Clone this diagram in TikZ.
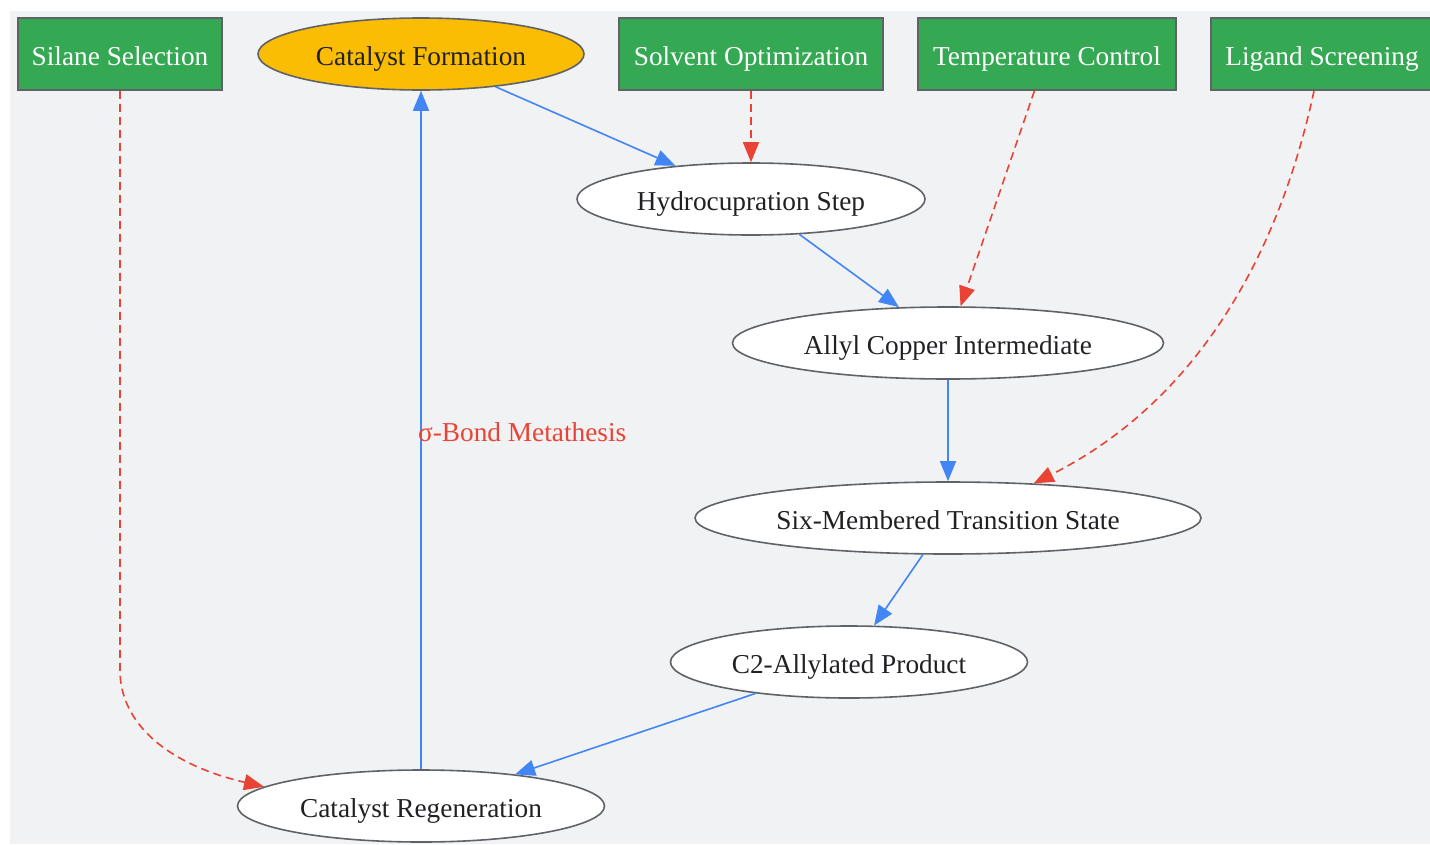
\documentclass[tikz,border=0pt]{standalone}
\usepackage{fontspec}
\setmainfont{Liberation Serif}
\usetikzlibrary{shapes.geometric,arrows.meta}
\definecolor{bgc}{RGB}{241,242,244}
\definecolor{gfill}{RGB}{52,168,83}
\definecolor{yfill}{RGB}{251,188,4}
\definecolor{bordc}{RGB}{95,99,104}
\definecolor{bluec}{RGB}{66,133,244}
\definecolor{redc}{RGB}{234,67,53}
\definecolor{txtc}{RGB}{32,33,36}
\tikzset{
  every node/.style={font=\fontsize{27.3}{32}\selectfont, text height=25pt, text depth=2pt},
  factor/.style={rectangle, draw=bordc, line width=1.6pt, fill=gfill, text=white, minimum height=72pt, inner sep=0pt},
  stepell/.style={ellipse, draw=bordc, line width=1.6pt, fill=white, text=txtc, minimum height=72pt, inner sep=0pt},
  flow/.style={draw=bluec, line width=1.6pt, -{Triangle[length=20pt,width=16pt]}},
  infl/.style={draw=redc, line width=1.6pt, dash pattern=on 8pt off 5pt, -{Triangle[length=20pt,width=16pt]}},
  lbl/.style={text=redc}
}
\begin{document}
\begin{tikzpicture}[x=1pt,y=-1pt]
\useasboundingbox (0,0) rectangle (1430,844);
\fill[bgc] (10,11) rectangle (1430,844);
% top row
\node[factor, minimum width=204pt] (sil) at (120,54) {Silane Selection};
\node[stepell, fill=yfill, minimum width=326pt] (cat) at (421,54) {Catalyst Formation};
\node[factor, minimum width=264pt] (sol) at (751,54) {Solvent Optimization};
\node[factor, minimum width=258pt] (tem) at (1047,54) {Temperature Control};
\node[factor, minimum width=222pt] (lig) at (1322,54) {Ligand Screening};
% mechanism
\node[stepell, minimum width=348pt] (hyd) at (751,199) {Hydrocupration Step};
\node[stepell, minimum width=431pt] (all) at (948,343) {Allyl Copper Intermediate};
\node[stepell, minimum width=506pt] (six) at (948,518) {Six-Membered Transition State};
\node[stepell, minimum width=357pt] (prod) at (849,662) {C2-Allylated Product};
\node[stepell, minimum width=367pt] (reg) at (421,806) {Catalyst Regeneration};
% flow edges
\draw[flow] (cat) -- (hyd);
\draw[flow] (hyd) -- (all);
\draw[flow] (all) -- (six);
\draw[flow] (six) -- (prod);
\draw[flow] (prod) -- (reg);
\draw[flow] (reg) -- node[lbl, anchor=west, pos=0.5, xshift=-7pt] {σ-Bond Metathesis} (cat);
% influence edges
\draw[infl] (sol) -- (hyd);
\draw[infl] (tem) -- (all);
\draw[infl] ([xshift=-8pt]lig.south) .. controls (1280,250) and (1200,400) .. (six.22);
\coordinate (sbend) at (120,670);
\draw[infl] (sil.south) -- (sbend) .. controls (120,725) and (170,765) .. (reg.173);
\end{tikzpicture}
\end{document}
